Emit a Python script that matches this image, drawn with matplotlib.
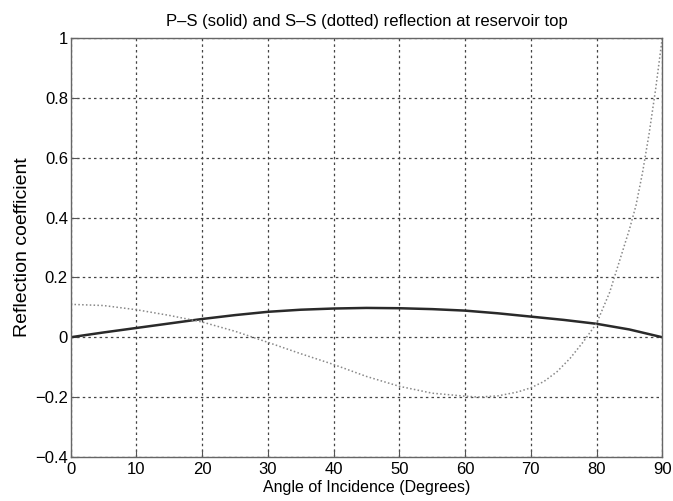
import numpy as np
import matplotlib
matplotlib.use('Agg')
import matplotlib.pyplot as plt

# P-S reflection (solid)
ps_angle = [0, 5, 10, 15, 20, 25, 30, 35, 40, 45, 50, 55, 60, 65, 70, 75, 80, 85, 90]
ps_coef = [0, 0.016, 0.031, 0.046, 0.061, 0.074, 0.085, 0.092, 0.096, 0.098,
           0.097, 0.094, 0.089, 0.080, 0.069, 0.058, 0.045, 0.026, 0]

# S-S reflection (dotted)
ss_angle = [0, 5, 10, 15, 20, 25, 30, 35, 40, 45, 50, 55, 60, 62, 65, 68, 70, 72,
            74, 76, 78, 80, 82, 83, 84, 85, 86, 87, 88, 89, 90]
ss_coef = [0.110, 0.106, 0.092, 0.073, 0.051, 0.020, -0.017, -0.055, -0.091,
           -0.131, -0.164, -0.187, -0.197, -0.200, -0.196, -0.183, -0.169, -0.148,
           -0.115, -0.070, -0.015, 0.046, 0.15, 0.22, 0.29, 0.36, 0.44, 0.55, 0.68, 0.83, 1.0]

yticks = [-0.4, -0.2, 0, 0.2, 0.4, 0.6, 0.8, 1]
ytick_labels = ['\u22120.4', '\u22120.2', '0', '0.2', '0.4', '0.6', '0.8', '1']

plt.rcParams['font.family'] = ['Liberation Sans', 'DejaVu Sans']

fig = plt.figure(figsize=(6.73, 5.01), dpi=100)
ax = fig.add_axes([0.105, 0.088, 0.879, 0.836])

ax.plot(ps_angle, ps_coef, color='#2a2a2a', linewidth=1.8)
ax.plot(ss_angle, ss_coef, color='#888888', linewidth=1.1, linestyle=(0, (1, 1.5)))

ax.set_xlim(0, 90)
ax.set_ylim(-0.4, 1)
ax.set_xticks(np.arange(0, 91, 10))
ax.set_yticks(yticks)
ax.set_yticklabels(ytick_labels)
ax.grid(True, color='#444444', linestyle=(0, (2, 2.5)), linewidth=0.9)
ax.tick_params(direction='in', length=5, labelsize=12, width=0.8, color='#555555',
               labelcolor='#000000')
ax.tick_params(axis='x', pad=4)
ax.tick_params(axis='y', pad=2)
for s in ax.spines.values():
    s.set_color('#666666')
    s.set_linewidth(1.0)

ax.set_title('P\u2013S (solid) and S\u2013S (dotted) reflection at reservoir top', fontsize=12, pad=9)
ax.set_xlabel('Angle of Incidence (Degrees)', fontsize=11.5, labelpad=2)
ax.set_ylabel('Reflection coefficient', fontsize=14, labelpad=3)

fig.savefig('out.png', dpi=100)
